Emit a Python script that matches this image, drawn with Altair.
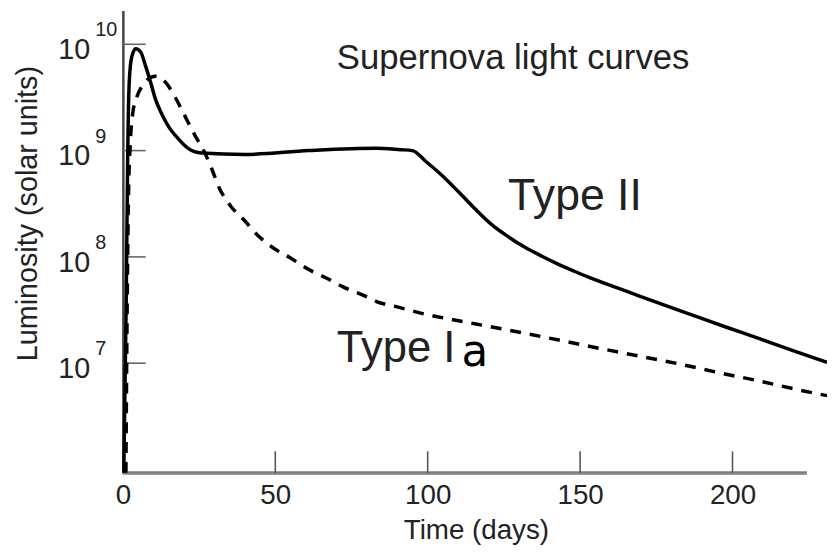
import altair as alt
import pandas as pd

# ---- data ----
typeII_t = [0.3, 1.1, 1.6, 2.1, 2.9, 4.2, 5.8, 7.4, 9.0, 10.6, 12.8, 14.9, 18.2, 21.4, 25.8,
            40, 61, 83, 91, 95, 99.4, 104.8, 110.1, 115.7, 121.1, 126.4, 131.9, 137.3, 142.6,
            148.1, 153.6, 165.4, 176.3, 187.1, 197.8, 208.8, 219.6, 231]
typeII_L = [9.3e5, 4.0e7, 1.0e9, 4.5e9, 7.6e9, 9.1e9, 8.5e9, 6.3e9, 4.5e9, 3.1e9, 2.2e9, 1.7e9,
            1.29e9, 1.05e9, 9.5e8, 9.2e8, 1.0e9, 1.05e9, 1.02e9, 1.0e9, 7.9e8, 5.8e8, 4.1e8, 2.8e8,
            2.0e8, 1.55e8, 1.23e8, 1.02e8, 8.6e7, 7.33e7, 6.3e7, 4.73e7, 3.63e7, 2.82e7, 2.19e7,
            1.70e7, 1.32e7, 1.02e7]

typeIa_t = [1.0, 1.4, 1.8, 2.4, 3.2, 4.6, 6.2, 7.9, 10.7, 13.3, 17.1, 20.4, 23.6, 26.9, 29.0,
            31.7, 35.4, 39.9, 44.2, 49.6, 54.9, 61.0, 66.9, 72.4, 79.3, 83.2, 89.7, 99.4, 110.1,
            121.1, 131.9, 142.6, 156.3, 169.8, 182.8, 195.8, 208.8, 221.8, 231]
typeIa_L = [9.3e5, 3.2e7, 3.2e8, 1.12e9, 2.2e9, 3.2e9, 4.0e9, 4.6e9, 5.0e9, 4.6e9, 3.2e9, 2.1e9,
            1.4e9, 9.5e8, 6.9e8, 4.4e8, 3.0e8, 2.2e8, 1.6e8, 1.2e8, 9.8e7, 7.6e7, 6.3e7, 5.2e7,
            4.3e7, 3.8e7, 3.4e7, 2.88e7, 2.51e7, 2.19e7, 1.91e7, 1.66e7, 1.38e7, 1.16e7, 9.8e6,
            8.1e6, 6.8e6, 5.6e6, 4.95e6]

x_ticks = [0, 50, 100, 150, 200]
y_tick_values = [1e7, 1e8, 1e9, 1e10]
y_tick_exponents = ["7", "8", "9", "10"]
x_axis_range = [0, 224.4]

W, H = 711, 467
FONT = "Liberation Sans"
TXT = "#222222"

xscale = alt.Scale(domain=[0, 231], nice=False, zero=False)
yscale = alt.Scale(type="log", domain=[9.25e5, 2.075e10], nice=False)

df2 = pd.DataFrame({"t": typeII_t, "L": typeII_L})
dfa = pd.DataFrame({"t": typeIa_t, "L": typeIa_L})
dxt = pd.DataFrame({"t": x_ticks})
dyt = pd.DataFrame({"L": y_tick_values, "exp": y_tick_exponents, "base": ["10"] * 4})
dax = pd.DataFrame({"t": [x_axis_range[0]], "t1": [x_axis_range[1]]})

x_axis = alt.Axis(values=x_ticks, domain=False, ticks=False, tickSize=0, grid=False,
                  labelFont=FONT, labelFontSize=28, labelColor=TXT, labelBaseline="alphabetic",
                  labelPadding=31, labelFlush=False,
                  title="Time (days)", titleFont=FONT, titleFontSize=28, titleFontWeight="normal",
                  titleColor=TXT, titleX=356.5, titleY=66, titleBaseline="alphabetic",
                  titleAlign="center")
y_axis = alt.Axis(labels=False, ticks=False, grid=False, domain=True, domainColor="#444444",
                  domainWidth=2.5,
                  title="Luminosity (solar units)", titleFont=FONT, titleFontSize=29,
                  titleFontWeight="normal", titleColor=TXT, titleAngle=270, titleX=-87,
                  titleY=204.5, titleAlign="center", titleBaseline="alphabetic")

X = alt.X("t:Q", scale=xscale, axis=x_axis)
Y = alt.Y("L:Q", scale=yscale, axis=y_axis)

solid = alt.Chart(df2).mark_line(color="black", strokeWidth=3.5, interpolate="monotone").encode(
    x=X, y=Y)
dashed = alt.Chart(dfa).mark_line(color="black", strokeWidth=3.5, strokeDash=[11, 9],
                                  interpolate="monotone").encode(x=X, y=Y)

xaxis_line = alt.Chart(dax).mark_rule(color="#808080", strokeWidth=3.5).encode(
    x=X, x2="t1:Q", y=alt.value(H)
)
xticks = alt.Chart(dxt).mark_rule(color="#555555", strokeWidth=1.6).encode(
    x=X, y=alt.value(H), y2=alt.value(H - 22)
)
yticks = alt.Chart(dyt).mark_rule(color="#666666", strokeWidth=1.6).encode(
    y=Y, x=alt.value(0), x2=alt.value(23)
)
ybase = alt.Chart(dyt).mark_text(align="right", baseline="alphabetic", dy=15, font=FONT,
                                 fontSize=29, color=TXT).encode(
    y=Y, x=alt.value(-33), text="base:N"
)
yexp = alt.Chart(dyt).mark_text(align="left", baseline="alphabetic", dy=-8, font=FONT,
                                fontSize=20, color=TXT).encode(
    y=Y, x=alt.value(-28), text="exp:N"
)

def label(txt, x, y, size, align="left", color=TXT, font=FONT):
    return alt.Chart(pd.DataFrame({"s": [txt]})).mark_text(
        align=align, baseline="alphabetic", font=font, fontSize=size, color=color
    ).encode(x=alt.value(x), y=alt.value(y), text="s:N")

title = label("Supernova light curves", 394, 59, 35, align="center")
t2 = label("Type II", 389, 201, 45)
t1 = label("Type I", 216, 355, 44)
ta = label("a", 342, 359, 44, color="black", font="DejaVu Sans")

chart = alt.layer(
    xaxis_line, xticks, yticks, solid, dashed, ybase, yexp, title, t2, t1, ta
).properties(
    width=W, height=H,
    autosize=alt.AutoSizeParams(type="none"),
    padding={"left": 116, "top": 0, "right": 0, "bottom": 70},
).configure_view(stroke=None)

chart.save("out.html", embed_options={"renderer": "svg", "actions": False})
